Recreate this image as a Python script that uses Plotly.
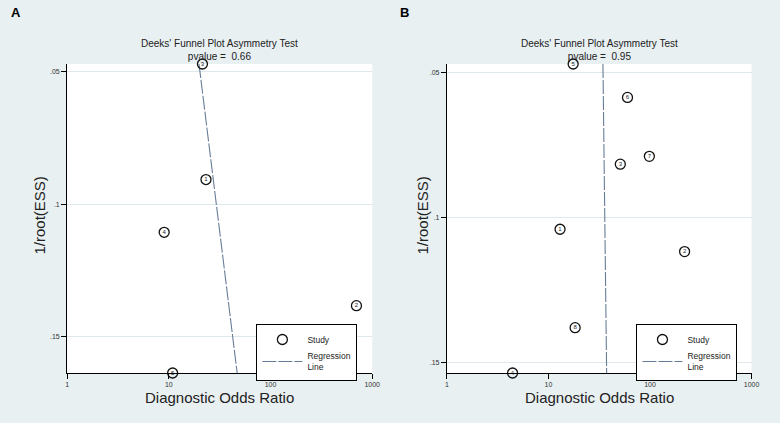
import plotly.graph_objects as go

# ---------------- data ----------------
studies_a = ["1", "2", "3", "4", "5"]
dor_a = [23.2, 700, 21.4, 9.0, 10.9]
inv_root_ess_a = [0.0906, 0.1382, 0.047, 0.1105, 0.1636]
reg_a_dor = [19.8, 47.0]
reg_a_y = [0.047, 0.1636]
pvalue_a = "0.66"

studies_b = ["1", "2", "3", "4", "5", "6", "7", "8"]
dor_b = [13.0, 219, 51, 4.43, 17.5, 60, 98.5, 18.3]
inv_root_ess_b = [0.104, 0.1117, 0.0816, 0.1535, 0.0471, 0.0586, 0.0789, 0.1379]
reg_b_dor = [34.4, 37.4]
reg_b_y = [0.0471, 0.1535]
pvalue_b = "0.95"

x_ticks = [1, 10, 100, 1000]
x_ticklabels = ["1", "10", "100", "1000"]
y_ticks = [0.05, 0.1, 0.15]
y_ticklabels = [".05", ".1", ".15"]

# ---------------- style ----------------
BG = "#e9f0f2"
GRID = "#dfe8ec"
FONT = "Liberation Sans, Arial, sans-serif"
LINE_COL = "#667d98"

fig = go.Figure()

panels = [
    dict(x=dor_a, y=inv_root_ess_a, t=studies_a, rx=reg_a_dor, ry=reg_a_y,
         xa="x", ya="y", leg="legend"),
    dict(x=dor_b, y=inv_root_ess_b, t=studies_b, rx=reg_b_dor, ry=reg_b_y,
         xa="x2", ya="y2", leg="legend2"),
]

for p in panels:
    fig.add_trace(go.Scatter(
        x=p["rx"], y=p["ry"], mode="lines",
        line=dict(color=LINE_COL, width=1.1, dash="14px,2px"),
        name="Regression<br>Line", xaxis=p["xa"], yaxis=p["ya"], legend=p["leg"],
        legendrank=2,
    ))
    fig.add_trace(go.Scatter(
        x=p["x"], y=p["y"], text=p["t"], mode="markers+text",
        textposition="middle center",
        textfont=dict(size=6, color="#222", family=FONT),
        marker=dict(symbol="circle-open", size=10, color="#111",
                    line=dict(width=1.3, color="#111")),
        name="Study", xaxis=p["xa"], yaxis=p["ya"], legend=p["leg"],
        cliponaxis=False, legendrank=1,
    ))

W, H = 780, 423
dom_a = [66 / W, 375 / W]
dom_b = [450.7 / W, 759.3 / W]
dom_y = [(H - 373) / H, (H - 64) / H]

def xaxis(domain, anchor):
    return dict(
        type="log", range=[0, 3], domain=domain, anchor=anchor,
        tickvals=x_ticks, ticktext=x_ticklabels,
        showgrid=False, zeroline=False,
        showline=True, linecolor="#000", linewidth=1,
        ticks="outside", ticklen=5, tickcolor="#000", tickwidth=1,
        tickfont=dict(size=7, color="#333", family=FONT),
        mirror=False,
    )

def yaxis(yvals, anchor):
    return dict(
        range=[max(yvals), min(yvals)], domain=dom_y, anchor=anchor,
        tickvals=y_ticks, ticktext=y_ticklabels,
        showgrid=True, gridcolor=GRID, gridwidth=1, zeroline=False,
        showline=True, linecolor="#000", linewidth=1,
        ticks="outside", ticklen=5, tickcolor="#000", tickwidth=1,
        tickfont=dict(size=7, color="#333", family=FONT),
    )

legend_common = dict(
    bgcolor="#ffffff", bordercolor="#000", borderwidth=1,
    font=dict(size=8.5, color="#222", family=FONT),
    xanchor="right", yanchor="top", itemwidth=40,
    tracegroupgap=0, traceorder="normal",
)

annotations = []
for cx, pv in [((66 + 375) / 2 / W, pvalue_a), ((450.7 + 759.3) / 2 / W, pvalue_b)]:
    annotations.append(dict(
        text="Deeks' Funnel Plot Asymmetry Test<br>pvalue =  " + pv,
        x=cx, y=(H - 50) / H,
        xref="paper", yref="paper", showarrow=False, align="center",
        font=dict(size=10, color="#222", family=FONT), xanchor="center", yanchor="middle"))
    annotations.append(dict(
        text="Diagnostic Odds Ratio", x=cx, y=(H - 397) / H,
        xref="paper", yref="paper", showarrow=False,
        font=dict(size=15, color="#222", family=FONT), xanchor="center", yanchor="middle"))

for x_px in [37, 425]:
    annotations.append(dict(
        text="1/root(ESS)", x=x_px / W, y=(H - 216) / H, textangle=-90,
        xref="paper", yref="paper", showarrow=False,
        font=dict(size=15, color="#222", family=FONT), xanchor="center", yanchor="middle"))

for lbl, x_px in [("A", 14), ("B", 408)]:
    annotations.append(dict(
        text="<b>" + lbl + "</b>", x=x_px / W, y=(H - 12) / H,
        xref="paper", yref="paper", showarrow=False,
        font=dict(size=13, color="#000", family=FONT), xanchor="center", yanchor="middle"))

fig.update_layout(
    width=W, height=H,
    margin=dict(l=0, r=0, t=0, b=0),
    paper_bgcolor=BG, plot_bgcolor="#ffffff",
    xaxis=xaxis(dom_a, "y"), yaxis=yaxis(inv_root_ess_a, "x"),
    xaxis2=xaxis(dom_b, "y2"), yaxis2=yaxis(inv_root_ess_b, "x2"),
    legend=dict(x=360 / W, y=(H - 324) / H, **legend_common),
    legend2=dict(x=745 / W, y=(H - 324) / H, **legend_common),
    annotations=annotations,
    showlegend=True,
)

fig.write_html(
    "out.html",
    config={"displayModeBar": False},
    post_script="document.body.style.margin='0';document.body.style.padding='0';"
                "document.body.style.background='" + BG + "';",
)
